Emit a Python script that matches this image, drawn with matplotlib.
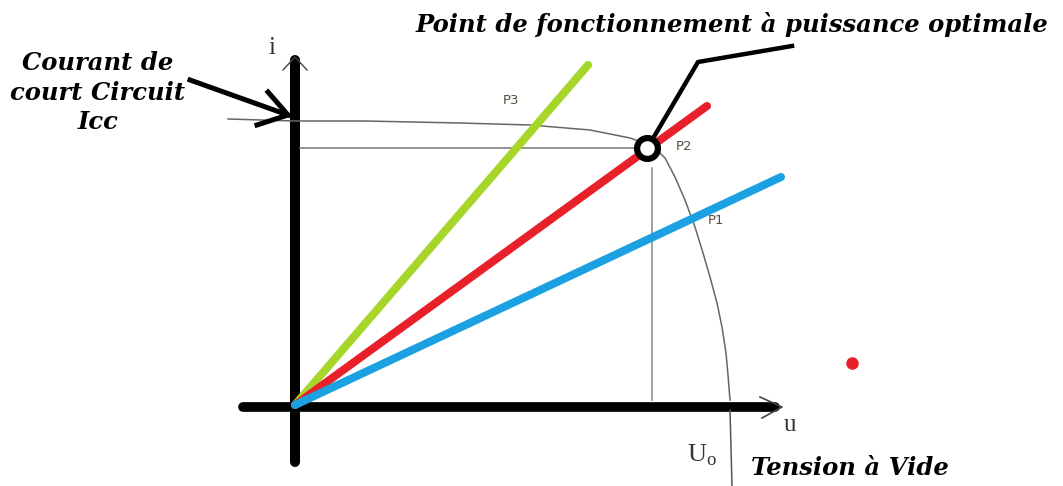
import matplotlib.pyplot as plt

# diagram coordinates: u to the right, i upwards, origin where the axes cross
# characteristic i(u) of the PV panel
curve_u = [-67, 0, 70, 165, 235, 295, 335, 352, 362, 370, 380, 390, 400,
           408, 415, 422, 427, 431, 433, 435]
curve_i = [286, 284, 284, 282, 280, 275, 267, 261, 255, 247, 228, 205,
           178, 152, 128, 102, 78, 52, 30, 5]

# load lines (start at origin, end points)
load_names = ["P3", "P2", "P1"]
load_end_u = [293, 412, 486]
load_end_i = [340, 299, 228]
load_colors = ["#a6d62a", "#e8202a", "#1ba1e2"]
label_u = [208, 381, 413]
label_i = [301, 255, 181]

# optimal power point
mpp_u, mpp_i = 352, 257
U0 = 435

fig = plt.figure(figsize=(10.63, 4.86), dpi=100)
ax = fig.add_axes([0, 0, 1, 1])
ax.set_xlim(-295, 768)
ax.set_ylim(-81, 405)
ax.axis("off")

serif_bi = dict(family="DejaVu Serif", weight="bold", style="italic",
                fontsize=17.5, color="black")

# main axes (thick black)
ax.plot([0, 0], [-57, 345], color="black", lw=7.2, solid_capstyle="round")
ax.plot([-52, 480], [-2, -2], color="black", lw=7, solid_capstyle="round")
# thin arrowheads
ax.plot([-12, 0, 12], [335, 348, 335], color="#444444", lw=1)
ax.plot([465, 487, 467], [8, -2, -13], color="#444444", lw=1.2)
ax.text(-23, 357, "i", family="Liberation Serif", fontsize=18,
        color="#333333", ha="center", va="center")
ax.text(495, -20, "u", family="Liberation Serif", fontsize=18,
        color="#333333", ha="center", va="center")
ax.text(407, -50, "U$_\\mathregular{o}$", family="Liberation Serif",
        fontsize=19, color="#333333", ha="center", va="center")

# characteristic curve + U0 marker
ax.plot(curve_u, curve_i, color="#666666", lw=1.1)
ax.plot([U0, U0 + 2], [-5, -81], color="#555555", lw=1.1)

# projections of the optimal point
ax.plot([5, mpp_u - 10], [mpp_i, mpp_i], color="#777777", lw=1.1)
ax.plot([mpp_u + 5, mpp_u + 5], [mpp_i - 20, 5], color="#888888", lw=1.1)

# load lines
for name, eu, ei, c, lu, li in zip(load_names, load_end_u, load_end_i,
                                   load_colors, label_u, label_i):
    ax.plot([0, eu], [0, ei], color=c, lw=5.8, solid_capstyle="round")
    ax.text(lu, li, name, fontsize=9.5, color="#5a4d40", family="DejaVu Sans")

# pointer to the optimal point
ax.plot([mpp_u + 8, 403, 497], [mpp_i + 13, 343, 359], color="black", lw=3.2)
ax.plot(mpp_u, mpp_i, marker="o", ms=15, mfc="white", mec="black", mew=4.5)

# short-circuit current arrow
ax.plot([-105, -7], [325, 290], color="black", lw=3.6)
ax.plot([-27, -7, -38], [313, 290, 280], color="black", lw=3.6)

# stray red dot
ax.plot(557, 42, marker="o", ms=8, color="#e8202a", mec="#e8202a")

ax.text(-197, 354, "Courant de\ncourt Circuit\nIcc", ha="center", va="top",
        linespacing=1.3, **serif_bi)
ax.text(437, 373, "Point de fonctionnement à puissance optimale",
        ha="center", va="baseline", **serif_bi)
ax.text(555, -70, "Tension à Vide", ha="center", va="baseline", **serif_bi)

fig.savefig("out.png", dpi=100)
